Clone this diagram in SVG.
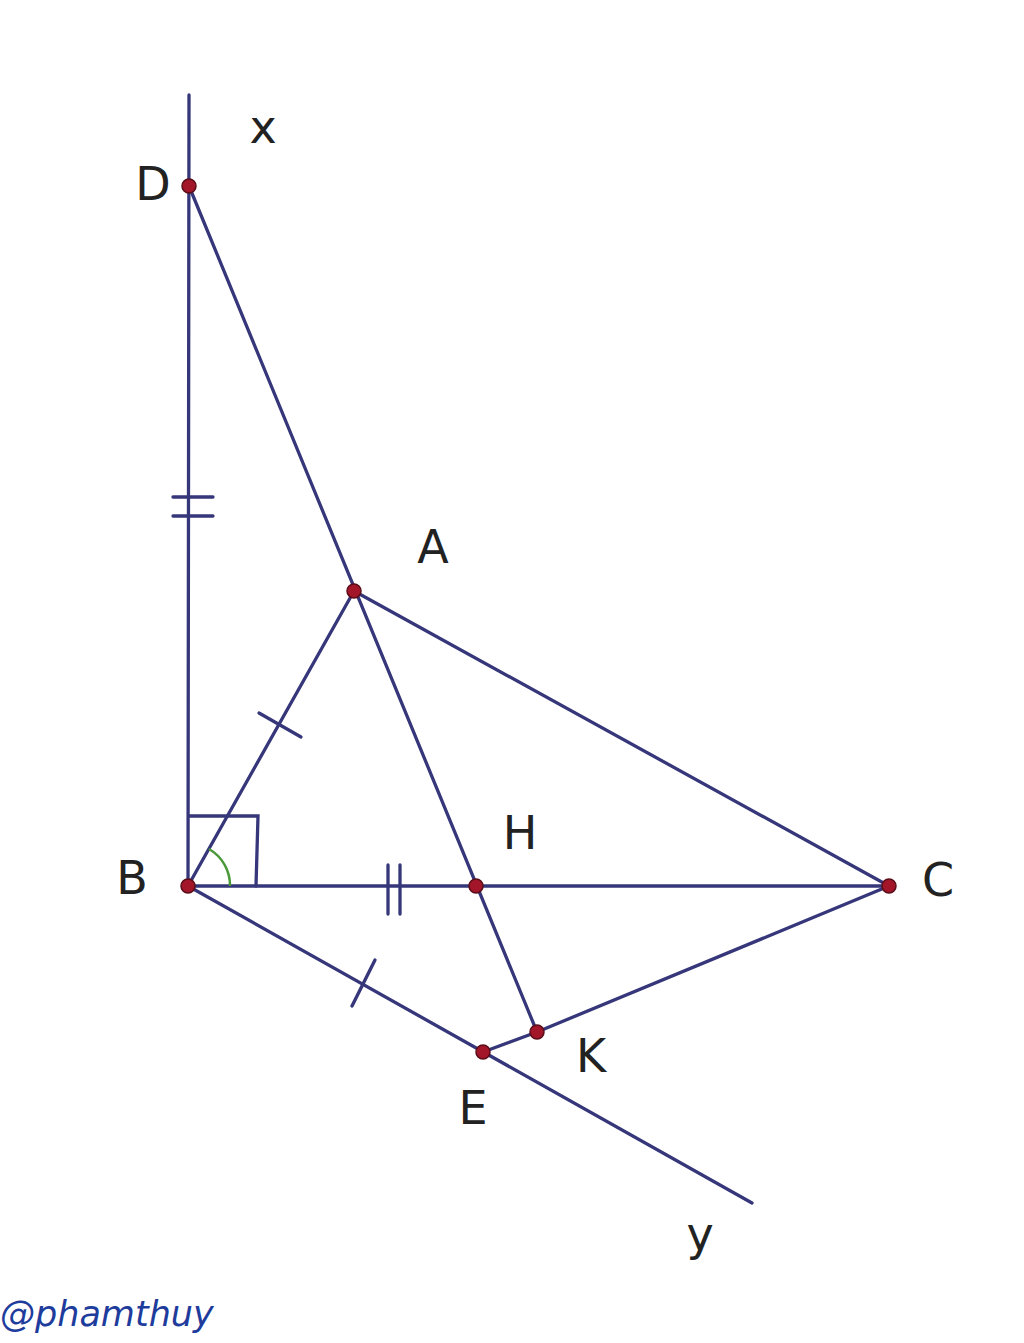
<svg xmlns="http://www.w3.org/2000/svg" width="1024" height="1343" viewBox="0 0 1024 1343">
<style>
.ln{stroke:#36367a;stroke-width:3.3;fill:none;stroke-linecap:round}
.pt{fill:#a3162a;stroke:#5a0d18;stroke-width:1.5}
.lb{font-family:"DejaVu Sans","Liberation Sans",sans-serif;font-size:46px;fill:#222;text-anchor:middle}
.wm{font-family:"DejaVu Sans",sans-serif;font-style:italic;font-size:35px;fill:#1e3c9c}
</style>
<rect width="1024" height="1343" fill="#ffffff"/>
<g id="connectors">
<line class="ln" x1="189" y1="95" x2="188" y2="886"/>
<line class="ln" x1="189" y1="186" x2="537" y2="1032"/>
<line class="ln" x1="188" y1="886" x2="354" y2="591"/>
<line class="ln" x1="354" y1="591" x2="889" y2="886"/>
<line class="ln" x1="188" y1="886" x2="889" y2="886"/>
<line class="ln" x1="188" y1="886" x2="752" y2="1203"/>
<line class="ln" x1="483" y1="1052" x2="537" y2="1032"/>
<line class="ln" x1="537" y1="1032" x2="889" y2="886"/>
<polyline class="ln" points="189,816 258,816 256,886"/>
<path d="M230,886 A42,42 0 0 0 209,849" fill="none" stroke="#4a9a3a" stroke-width="2.5"/>
<line class="ln" x1="173" y1="497" x2="213" y2="497"/>
<line class="ln" x1="173" y1="516" x2="213" y2="516"/>
<line class="ln" x1="259" y1="713" x2="301" y2="737"/>
<line class="ln" x1="388" y1="865" x2="388" y2="914"/>
<line class="ln" x1="400" y1="865" x2="400" y2="914"/>
<line class="ln" x1="352" y1="1006" x2="375" y2="960"/>
</g>
<g id="D"><circle class="pt" cx="189" cy="186" r="7"/><text class="lb" x="153" y="200">D</text></g>
<g id="A"><circle class="pt" cx="354" cy="591" r="7"/><text class="lb" x="433" y="563">A</text></g>
<g id="B"><circle class="pt" cx="188" cy="886" r="7"/><text class="lb" x="132" y="894">B</text></g>
<g id="H"><circle class="pt" cx="476" cy="886" r="7"/><text class="lb" x="520" y="849">H</text></g>
<g id="C"><circle class="pt" cx="889" cy="886" r="7"/><text class="lb" x="938" y="896">C</text></g>
<g id="K"><circle class="pt" cx="537" cy="1032" r="7"/><text class="lb" x="591" y="1072">K</text></g>
<g id="E"><circle class="pt" cx="483" cy="1052" r="7"/><text class="lb" x="473" y="1124">E</text></g>
<g id="x"><text class="lb" x="263" y="143">x</text></g>
<g id="y"><text class="lb" x="700" y="1250">y</text></g>
<g id="watermark"><text class="wm" x="0" y="1326">@phamthuy</text></g>
</svg>
